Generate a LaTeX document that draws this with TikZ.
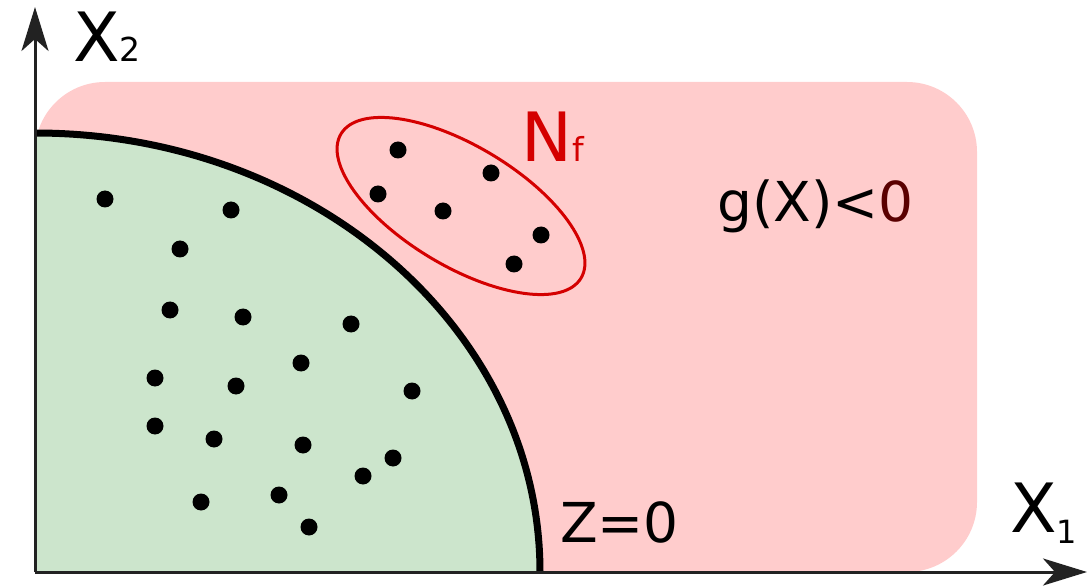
\documentclass[tikz,border=0pt]{standalone}
\usepackage{fontspec}
\setmainfont{DejaVu Sans}
\usetikzlibrary{arrows.meta}
\definecolor{pinkfill}{RGB}{255,204,204}
\definecolor{greenfill}{RGB}{204,229,204}
\definecolor{nred}{RGB}{212,0,0}
\definecolor{darkred}{RGB}{90,0,0}
\definecolor{axisgray}{RGB}{34,34,34}
\begin{document}
\begin{tikzpicture}[x=1pt,y=1pt,
  dot/.style={circle,fill=black,inner sep=0pt,minimum size=17pt},
  lbl/.style={inner sep=0pt,anchor=base west},
  axisline/.style={line width=3pt,draw=axisgray,-{Stealth[length=44pt,width=27pt,inset=12pt]}},
  big/.style={font=\fontsize{68}{68}\selectfont},
  mid/.style={font=\fontsize{55}{55}\selectfont}]
\useasboundingbox (0,0) rectangle (1089,587);
% regions
\fill[pinkfill,rounded corners=70pt] (35,15) rectangle (977,505);
\fill[greenfill] (35,15) -- (35,454) arc[start angle=90,end angle=0,x radius=505,y radius=439] -- cycle;
\draw[line width=7pt] (35,454) arc[start angle=90,end angle=0,x radius=505,y radius=439];
% ellipse N_f
\draw[nred,line width=3pt,rotate around={-31:(461,381)}] (461,381) ellipse[x radius=140,y radius=60];
% dots
\foreach \n/\x/\y in {1/105/388,2/231/377,3/180/338,4/170/277,5/243/270,6/351/263,
  7/301/224,8/155/209,9/236/201,10/412/196,11/155/161,12/214/148,13/303/142,
  14/393/129,15/363/111,16/201/85,17/279/92,18/309/60,
  19/398/437,20/491/414,21/378/393,22/443/376,23/541/352,24/514/323}
  \node[dot] (d\n) at (\x,\y) {};
% axes
\coordinate (O) at (35,15);
\coordinate (ytip) at (35,580);
\coordinate (xtip) at (1087,15);
\draw[axisline] (O) -- (ytip);
\draw[axisline] (O) -- (xtip);
% labels
\node[lbl,big] (x2) at (73,525) {X{\fontsize{33}{33}\selectfont 2}};
\node[lbl,big] (x1) at (1010,55) {X\raisebox{-11pt}{\fontsize{32}{32}\selectfont 1}};
\node[lbl,big,text=nred] (nf) at (521,425) {N{\fontsize{33}{33}\selectfont f}};
\node[lbl,mid] (z0) at (560,45) {Z=0};
\node[lbl,mid] (gx) at (717,365) {g(X)<\textcolor{darkred}{0}};
\end{tikzpicture}
\end{document}
